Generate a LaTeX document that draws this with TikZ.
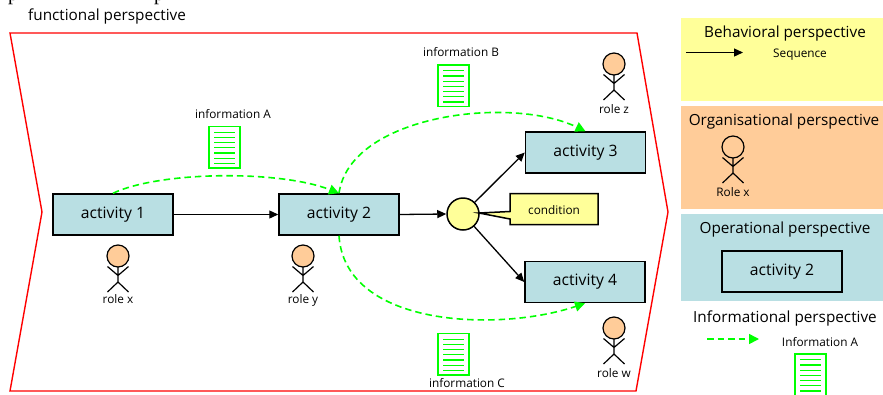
\documentclass[tikz,border=0pt]{standalone}
\usepackage{fontspec}
\setmainfont{Open Sans}
\usetikzlibrary{arrows.meta}
\definecolor{actblue}{HTML}{B9DFE3}
\definecolor{softyellow}{HTML}{FFFF99}
\definecolor{softorange}{HTML}{FFCC99}
\definecolor{docgreen}{HTML}{00FF00}
\tikzset{
  activitybox/.style={draw=black,line width=1.5pt,fill=actblue,minimum width=120pt,minimum height=41pt,inner sep=0pt,font=\fontsize{15.7}{18}\selectfont},
  seqarrow/.style={draw=black,line width=1.3pt,-{Triangle[length=9pt,width=8pt]}},
  infoarrow/.style={draw=docgreen,line width=1.6pt,dash pattern=on 6.5pt off 4pt,-{Triangle[length=10pt,width=10pt]}},
  smalltext/.style={font=\fontsize{11.8}{14}\selectfont,inner sep=0pt,text=black},
  headtext/.style={font=\fontsize{15.3}{18}\selectfont,inner sep=0pt,text=black},
  clippedtitle/.style={anchor=base west,inner sep=0pt,font=\fontspec{Liberation Serif}\fontsize{20}{22}\selectfont},
  panel/.style={draw=none,inner sep=0pt,anchor=north west},
  pics/person/.style={code={
    \draw[line width=1.2pt,fill=softorange] (0,0) circle (11);
    \draw[line width=1.2pt] (0,11)--(0,26) (-10.5,10.5)--(0,19.5)--(10.5,10.5) (-10.5,36)--(0,26)--(10.5,36);
  }},
  pics/document/.style={code={
    \draw[docgreen,line width=1.5pt,fill=white] (0,0) rectangle (31,41.5);
    \foreach \y in {5.7,10.9,16.1,21.3,26.5,31.7,36.9}
      \draw[docgreen,line width=1.2pt] (5.3,\y)--(26,\y);
  }}
}
\begin{document}
\begin{tikzpicture}[x=1pt,y=-1pt]
\useasboundingbox (0,0) rectangle (883,394);
% fragments of a title cut off by the top edge
\begin{scope}
\clip (0,0) rectangle (883,394);
\node[clippedtitle] (tp1) at (8,0) {p};
\node[clippedtitle] (tp2) at (154,0) {p};
\end{scope}
\node[headtext,anchor=base west] (func) at (28,20.5) {functional perspective};
\draw[red,line width=1.4pt] (10,33)--(637,33)--(668,212)--(636,391)--(10,391)--(42,212)--cycle;
% legend panels
\node[panel,fill=softyellow,minimum width=202pt,minimum height=83pt] (pyel) at (681,18) {};
\node[panel,fill=softorange,minimum width=202pt,minimum height=103pt] (pora) at (681,106) {};
\node[panel,fill=actblue,minimum width=202pt,minimum height=87pt] (pblu) at (681,214) {};
\node[headtext,anchor=base] (hbeh) at (785,37) {Behavioral perspective};
\node[headtext,anchor=base] (horg) at (784,125) {Organisational perspective};
\node[headtext,anchor=base] (hope) at (785,233) {Operational perspective};
\node[headtext,anchor=base] (hinf) at (785,322) {Informational perspective};
\coordinate (seqs) at (686,52.5);
\coordinate (seqe) at (743,52.5);
\draw[seqarrow] (seqs)--(seqe);
\node[smalltext,anchor=base] (seq) at (800,57) {Sequence};
\pic at (733,147) {person};
\node[smalltext,anchor=base] (rolelegend) at (733,196) {Role x};
\node[activitybox] (legact) at (782,271.5) {activity 2};
\coordinate (infs) at (707,339);
\coordinate (infe) at (759,339);
\draw[infoarrow] (infs)--(infe);
\node[smalltext,anchor=base] (legA) at (820,346) {Information A};
\begin{scope}
\clip (780,345) rectangle (840,394);
\pic at (795,354) {document};
\end{scope}
% activities
\node[activitybox] (a1) at (113,214.5) {activity 1};
\node[activitybox] (a2) at (339,214.5) {activity 2};
\node[activitybox] (a3) at (585.5,152.5) {activity 3};
\node[activitybox] (a4) at (585,282) {activity 4};
\node[circle,draw=black,line width=1.5pt,fill=softyellow,minimum size=32pt,inner sep=0pt] (gate) at (463,214) {};
% sequence flow
\draw[seqarrow] (a1.east)--(a2.west);
\draw[seqarrow] (a2.east)--(gate.west);
\draw[seqarrow] (gate)--(a3.west);
\draw[seqarrow] (gate)--(a4.west);
% condition callout
\fill[softyellow,draw=black,line width=1.5pt] (510,193.5)--(598,193.5)--(598,224.5)--(510,224.5)--(510,219)--(479,213)--(510,211.5)--cycle;
\node[smalltext,anchor=base] (cond) at (554,214) {condition};
% information flow
\draw[infoarrow] (a1.north) .. controls (160,171) and (280,170) .. (a2.north);
\draw[infoarrow] (a2.north) .. controls (350,115) and (510,95) .. (a3.north);
\draw[infoarrow] (a2.south) .. controls (345,328) and (500,332) .. (a4.south);
% documents
\pic at (209,126.5) {document};
\node[smalltext,anchor=base] (iA) at (233,118) {information A};
\pic at (438,65) {document};
\node[smalltext,anchor=base] (iB) at (461,56) {information B};
\pic at (438,333.5) {document};
\node[smalltext,anchor=base] (iC) at (467,387) {information C};
% roles
\pic at (118,256) {person};
\node[smalltext,anchor=base] (rx) at (118,303) {role x};
\pic at (303,256) {person};
\node[smalltext,anchor=base] (ry) at (303,303) {role y};
\pic at (614,64) {person};
\node[smalltext,anchor=base] (rz) at (614,113) {role z};
\pic at (614,328) {person};
\node[smalltext,anchor=base] (rw) at (614,377) {role w};
\end{tikzpicture}
\end{document}
